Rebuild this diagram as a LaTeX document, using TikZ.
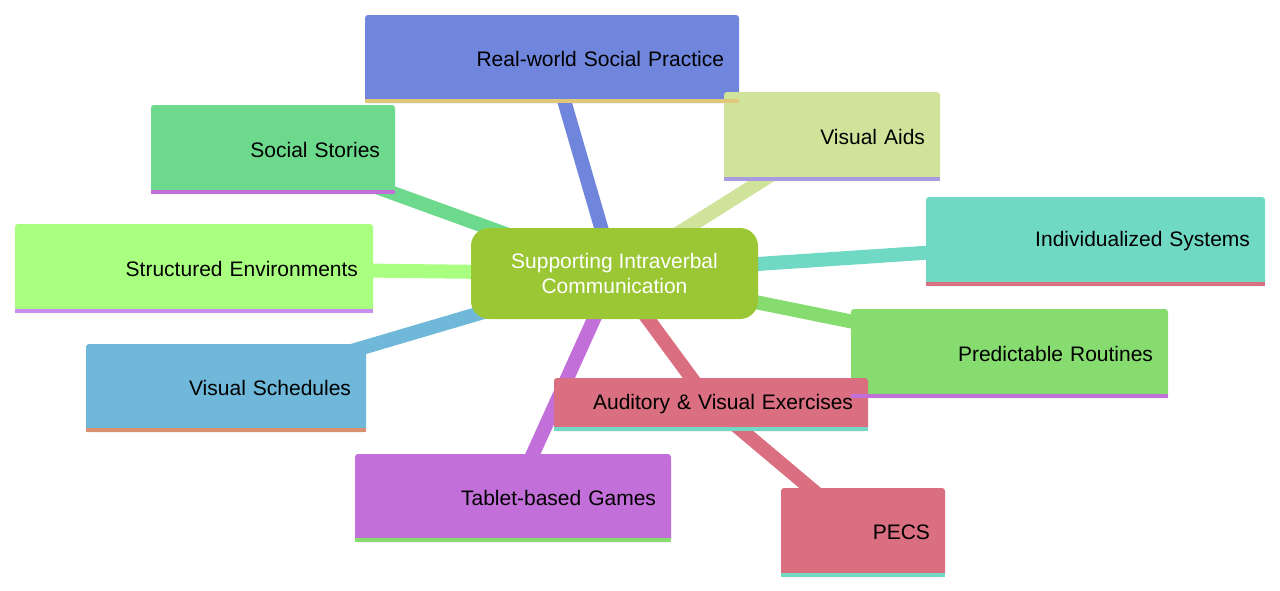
\documentclass[tikz,border=0pt]{standalone}
\usepackage{fontspec}
\setmainfont{Liberation Sans}
\usetikzlibrary{backgrounds}
\definecolor{cblue}{HTML}{6F86DC}
\definecolor{cyel}{HTML}{CFE39A}
\definecolor{cgreen}{HTML}{6CD98C}
\definecolor{cteal}{HTML}{6FD9C4}
\definecolor{clime}{HTML}{A9FF7F}
\definecolor{cgr2}{HTML}{86DC6F}
\definecolor{csky}{HTML}{6FB8D9}
\definecolor{cred}{HTML}{D96F80}
\definecolor{cmag}{HTML}{C36FD9}
\definecolor{cmid}{HTML}{9AC733}
\definecolor{ctan}{HTML}{E0C77A}
\definecolor{cpur}{HTML}{A89BE0}
\definecolor{clav}{HTML}{C88FF0}
\definecolor{corg}{HTML}{D99070}
\tikzset{
  leaf/.style n args={3}{rectangle, rounded corners=3pt, fill=#1, minimum width=#2, minimum height=#3,
    text width=#2-30pt, align=right, inner xsep=15pt, font=\fontsize{21}{24}\selectfont},
  conn/.style={line width=14pt, draw=#1}
}
\newcommand{\stripe}[2]{\fill[#2] (#1.south west) rectangle ([yshift=4pt]#1.south east);}
\begin{document}
\begin{tikzpicture}[x=1pt,y=-1pt]
\useasboundingbox (0,0) rectangle (1280,590);
\node[rectangle, rounded corners=18pt, fill=cmid, minimum width=287, minimum height=91, align=center, text=white, font=\fontsize{21}{25}\selectfont] (c) at (614.5,273.5) {Supporting Intraverbal\\Communication};
\node[leaf={cblue}{374}{88}] (rw) at (552,59) {Real-world Social Practice};
\node[leaf={cyel}{216}{89}] (va) at (832,136.5) {Visual Aids};
\node[leaf={cgreen}{244}{89}] (ss) at (273,149.5) {Social Stories};
\node[leaf={cteal}{339}{89}] (is) at (1095.5,241.5) {Individualized Systems};
\node[leaf={clime}{358}{89}] (se) at (194,268.5) {Structured Environments};
\node[leaf={cgr2}{317}{89}] (pr) at (1009.5,353.5) {Predictable Routines};
\node[leaf={csky}{280}{88}] (vs) at (226,388) {Visual Schedules};
\node[leaf={cred}{314}{53}] (av) at (711,404.5) {Auditory \& Visual Exercises};
\node[leaf={cmag}{316}{88}] (tg) at (513,498) {Tablet-based Games};
\node[leaf={cred}{164}{89}] (pe) at (863,532.5) {PECS};
\stripe{rw}{ctan}\stripe{va}{cpur}\stripe{ss}{cmag}\stripe{is}{cred}\stripe{se}{clav}
\stripe{pr}{cmag}\stripe{vs}{corg}\stripe{av}{cteal}\stripe{tg}{cgr2}\stripe{pe}{cteal}
\begin{scope}[on background layer]
\draw[conn=cblue] (c.center) -- (rw.center);
\draw[conn=cyel] (c.center) -- (va.center);
\draw[conn=cgreen] (c.center) -- (ss.center);
\draw[conn=cteal] (c.center) -- (is.center);
\draw[conn=clime] (c.center) -- (se.center);
\draw[conn=cgr2] (c.center) -- (pr.center);
\draw[conn=csky] (c.center) -- (vs.center);
\draw[conn=cred] (c.center) -- (av.center);
\draw[conn=cmag] (c.center) -- (tg.center);
\draw[conn=cred] (av.center) -- (pe.center);
\end{scope}
\end{tikzpicture}
\end{document}
